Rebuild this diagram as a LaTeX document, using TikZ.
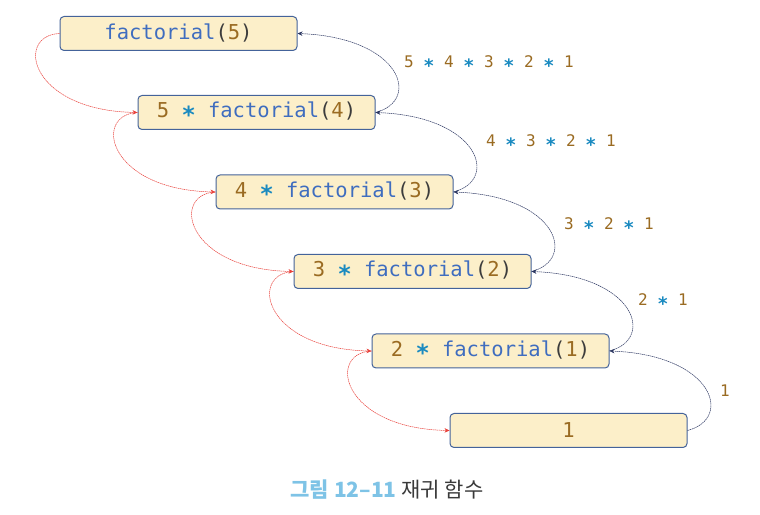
\documentclass[tikz,border=0pt]{standalone}
\usepackage{fontspec}
\setmonofont{DejaVu Sans Mono}
\newfontfamily\krfont{Noto Sans CJK KR}
\usetikzlibrary{arrows.meta}
\usepackage{xcolor}
\definecolor{BoxFill}{HTML}{FCEFC9}
\definecolor{BoxLine}{HTML}{44639A}
\definecolor{CallBlue}{HTML}{3F6DBF}
\definecolor{DigitBrown}{HTML}{9A6B22}
\definecolor{ParenGray}{HTML}{3C3C3C}
\definecolor{StarBlue}{HTML}{1A8AC0}
\definecolor{CallRed}{HTML}{E8403A}
\definecolor{RetNavy}{HTML}{2A3560}
\definecolor{CapBlue}{HTML}{7EC3E6}
\definecolor{CapGray}{HTML}{3A3A3A}
\newcommand{\fnc}[1]{\textcolor{CallBlue}{#1}}
\newcommand{\dgt}[1]{\textcolor{DigitBrown}{#1}}
\newcommand{\prn}[1]{\textcolor{ParenGray}{#1}}
\newcommand{\tms}{\textcolor{StarBlue}{\raisebox{-0.26em}{\bfseries\scalebox{1.15}{*}}}}
\newcommand{\call}[1]{\fnc{factorial}\prn{(}\dgt{#1}\prn{)}}

\begin{document}
\begin{tikzpicture}[x=1pt, y=1pt,
            frame/.style={draw=BoxLine, line width=1pt, fill=BoxFill, rounded corners=4pt, minimum width=237pt, minimum height=34pt, inner sep=0pt, font=\ttfamily\fontsize{20.5}{24}\selectfont},
            result/.style={anchor=west, inner sep=0pt, font=\ttfamily\fontsize{16}{19}\selectfont},
            callarrow/.style={-{Stealth[length=5pt,width=4.5pt]}, CallRed, line width=0.5pt, dash pattern=on 1.5pt off 0.6pt},
            retarrow/.style={-{Stealth[length=5pt,width=4.5pt]}, RetNavy, line width=0.5pt, dash pattern=on 1.5pt off 0.6pt}
        ]
            \useasboundingbox (0,0) rectangle (760,514);

            % Call chain (top to bottom)
            \node[frame] (fact5) at (178.5,480.5) {\call{5}};
            \node[frame] (fact4) at (256.5,401.5) {\dgt{5} \tms{} \call{4}};
            \node[frame] (fact3) at (334.5,322) {\dgt{4} \tms{} \call{3}};
            \node[frame] (fact2) at (412.5,242.5) {\dgt{3} \tms{} \call{2}};
            \node[frame] (fact1) at (490.5,163) {\dgt{2} \tms{} \call{1}};
            \node[frame] (base) at (568.5,83.5) {\dgt{1}};

            % Calls
            \draw[callarrow] (fact5.west) .. controls +(-45,-2) and +(-108,2) .. (fact4.west);
            \draw[callarrow] (fact4.west) .. controls +(-45,-2) and +(-108,2) .. (fact3.west);
            \draw[callarrow] (fact3.west) .. controls +(-45,-2) and +(-108,2) .. (fact2.west);
            \draw[callarrow] (fact2.west) .. controls +(-45,-2) and +(-108,2) .. (fact1.west);
            \draw[callarrow] (fact1.west) .. controls +(-45,-2) and +(-108,2) .. (base.west);

            % Returns
            \draw[retarrow] (fact4.east) .. controls +(46,12) and +(104,-4) .. (fact5.east);
            \draw[retarrow] (fact3.east) .. controls +(46,12) and +(104,-4) .. (fact4.east);
            \draw[retarrow] (fact2.east) .. controls +(46,12) and +(104,-4) .. (fact3.east);
            \draw[retarrow] (fact1.east) .. controls +(46,12) and +(104,-4) .. (fact2.east);
            \draw[retarrow] (base.east) .. controls +(46,12) and +(104,-4) .. (fact1.east);

            % Returned values
            \node[result] (res5) at (404,450) {\dgt{5} \tms{} \dgt{4} \tms{} \dgt{3} \tms{} \dgt{2} \tms{} \dgt{1}};
            \node[result] (res4) at (486,371) {\dgt{4} \tms{} \dgt{3} \tms{} \dgt{2} \tms{} \dgt{1}};
            \node[result] (res3) at (564,288) {\dgt{3} \tms{} \dgt{2} \tms{} \dgt{1}};
            \node[result] (res2) at (638,212) {\dgt{2} \tms{} \dgt{1}};
            \node[result] (res1) at (720,123) {\dgt{1}};

            % Caption
            \node[font=\krfont\fontsize{21}{25}\selectfont] (caption) at (387,24) {\textcolor{CapBlue}{\bfseries 그림 12–11} \textcolor{CapGray}{재귀 함수}};
        \end{tikzpicture}
\end{document}
